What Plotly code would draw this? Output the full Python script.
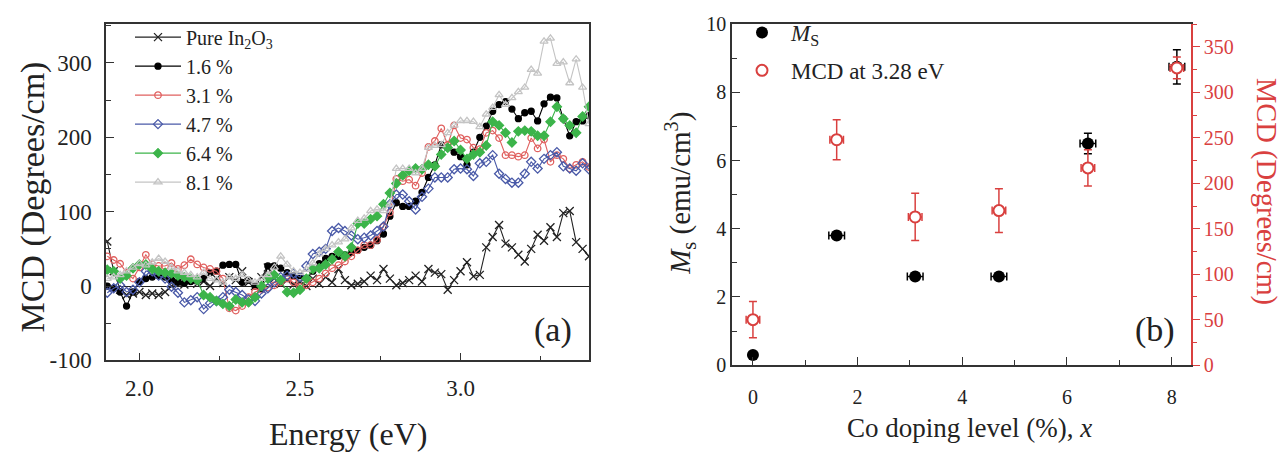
import plotly.graph_objects as go

# ---------------- data: panel (a) ----------------
ENERGY = [1.90, 1.92, 1.94, 1.96, 1.98, 2.00, 2.02, 2.04, 2.06, 2.08,
          2.10, 2.12, 2.14, 2.16, 2.18, 2.20, 2.22, 2.24, 2.26, 2.28,
          2.30, 2.32, 2.34, 2.36, 2.38, 2.40, 2.42, 2.44, 2.46, 2.48,
          2.50, 2.52, 2.54, 2.56, 2.58, 2.60, 2.62, 2.64, 2.66, 2.68,
          2.70, 2.72, 2.74, 2.76, 2.78, 2.80, 2.82, 2.84, 2.86, 2.88,
          2.90, 2.92, 2.94, 2.96, 2.98, 3.00, 3.02, 3.04, 3.06, 3.08,
          3.10, 3.12, 3.14, 3.16, 3.18, 3.20, 3.22, 3.24, 3.26, 3.28,
          3.30, 3.32, 3.34, 3.36, 3.38, 3.40]

PURE = [60, 20, -5, -12, -10, -8, -12, -10, -12, -8,
        0, 5, 2, 8, 3, 6, 0, 10, 4, 12,
        8, 20, 5, 0, 12, 25, 10, 3, 8, 2,
        5, 0, 10, 3, 12, 5, 23, 8, 1, 3,
        6, 14, 8, 23, 10, 1, 4, 8, 14, 6,
        23, 18, 16, -5, 8, 20, 32, 13, 15, 52,
        66, 82, 57, 52, 42, 33, 50, 69, 61, 79,
        66, 98, 101, 59, 50, 40]

CO_16 = [0, -3, -8, -27, -8, 6, 10, 12, 14, 12,
         8, 5, 4, 6, 8, 10, 18, 20, 28, 29,
         29, 5, 8, 0, -3, 27, 27, 24, 18, 14,
         14, 10, 20, 30, 37, 40, 40, 42, 45, 48,
         52, 55, 61, 70, 94, 112, 107, 107, 114, 126,
         146, 163, 190, 186, 180, 174, 163, 180, 200, 215,
         235, 244, 248, 238, 225, 233, 235, 222, 245, 254,
         253, 225, 202, 221, 222, 229]

CO_31 = [40, 35, 30, 18, 10, 25, 42, 29, 27, 27,
         31, 23, 28, 36, 29, 25, 23, 20, 10, -30,
         -33, -27, -15, -8, -5, -2, 1, 5, 10, 5,
         -1, 1, 5, 10, 17, 24, 28, 33, 40, 48,
         55, 55, 62, 80, 99, 144, 141, 143, 135, 152,
         187, 195, 212, 190, 216, 199, 197, 186, 184, 206,
         209, 199, 176, 176, 174, 176, 199, 185, 197, 167,
         176, 171, 158, 163, 167, 160]

CO_47 = [-9, -3, 1, -8, -5, 5, 20, 20, 14, 10,
         -1, -9, -22, -19, -15, -31, -23, -20, -15, -5,
         -8, -12, -18, -20, -10, -3, 5, 12, 14, 17,
         12, 27, 43, 46, 50, 74, 78, 74, 68, 63,
         65, 68, 74, 80, 110, 123, 123, 114, 103, 120,
         131, 146, 146, 146, 157, 158, 157, 148, 165, 167,
         176, 151, 144, 139, 139, 151, 167, 158, 171, 176,
         180, 161, 158, 155, 165, 157]

CO_64 = [22, 20, 10, 14, 24, 29, 29, 23, 20, 18,
         17, 14, 12, 10, 8, -12, -15, -20, -24, -27,
         -18, -22, -22, -15, 0, 10, 15, 8, -8, -9,
         -5, 10, 23, 24, 29, 36, 46, 40, 52, 84,
         84, 90, 94, 110, 125, 138, 149, 155, 158, 157,
         163, 161, 177, 186, 195, 183, 171, 177, 180, 189,
         221, 216, 206, 193, 208, 209, 208, 202, 202, 221,
         241, 225, 216, 206, 228, 241]

CO_81 = [10, 12, 15, 20, 25, 30, 28, 32, 37, 33,
         25, 20, 18, 15, 12, 18, 10, 8, 5, 12,
         10, 15, 8, 5, 10, 15, 25, 40, 29, 20,
         18, 22, 31, 43, 50, 55, 59, 63, 78, 88,
         91, 101, 103, 101, 110, 158, 158, 158, 152, 158,
         186, 189, 190, 206, 216, 222, 222, 221, 214, 231,
         240, 257, 244, 253, 261, 267, 291, 286, 329, 333,
         299, 301, 273, 305, 267, 218]

SERIES_NAMES = ["Pure In<sub>2</sub>O<sub>3</sub>", "1.6 %", "3.1 %", "4.7 %", "6.4 %", "8.1 %"]

Y_TICKS_A = [-100, 0, 100, 200, 300]
Y_TICKTEXT_A = ["-100", "0", "100", "200", "300"]

# ---------------- data: panel (b) ----------------
DOPING = [0, 1.6, 3.1, 4.7, 6.4, 8.1]
MS = [0.3, 3.8, 2.6, 2.6, 6.5, 8.75]
MS_YERR = [0, 0, 0, 0, 0.3, 0.5]
MS_XERR = [0, 0.15, 0.15, 0.15, 0.15, 0.15]
MCD_328 = [50, 248, 163, 170, 217, 327]
MCD_YERR = [20, 22, 26, 24, 20, 12]
MCD_XERR = [0.13, 0.13, 0.13, 0.13, 0.13, 0.13]

W, H = 1283, 452
FONT = "Liberation Serif"
RED = "#d9403f"
INK = "#222222"

def px_x(p):
    return p / W

def px_y(p):
    return 1 - p / H

fig = go.Figure()

styles = [
    dict(color="#222222", symbol="x-thin-open", size=8, lw=1.1),
    dict(color="#000000", symbol="circle", size=6, lw=1.1),
    dict(color="#e0605f", symbol="circle-open", size=6.5, lw=1.1),
    dict(color="#4a5aa8", symbol="diamond-open", size=7, lw=1.1),
    dict(color="#3cb44a", symbol="diamond", size=7, lw=1.1),
    dict(color="#c4c4c4", symbol="triangle-up-open", size=7, lw=1.1),
]
ys = [PURE, CO_16, CO_31, CO_47, CO_64, CO_81]
for name, yv, st in zip(SERIES_NAMES, ys, styles):
    fig.add_trace(go.Scatter(
        x=ENERGY, y=yv, name=name, mode="lines+markers",
        line=dict(color=st["color"], width=st["lw"]),
        marker=dict(symbol=st["symbol"], size=st["size"], color=st["color"],
                    line=dict(color=st["color"], width=1.3)),
        xaxis="x", yaxis="y", legend="legend"))

fig.add_trace(go.Scatter(
    x=DOPING, y=MS, name="<i>M</i><sub>S</sub>", mode="markers",
    marker=dict(symbol="circle", size=12, color="black"),
    error_y=dict(type="data", array=MS_YERR, color="black", thickness=1.5, width=4),
    error_x=dict(type="data", array=MS_XERR, color="black", thickness=1.5, width=4),
    xaxis="x2", yaxis="y2", legend="legend2", legendgroup="ms"))

fig.add_trace(go.Scatter(
    x=DOPING, y=MCD_328, name="MCD at 3.28 eV", mode="markers",
    marker=dict(symbol="circle", size=11, color="white", line=dict(color=RED, width=2)),
    error_y=dict(type="data", array=MCD_YERR, color=RED, thickness=1.5, width=4),
    error_x=dict(type="data", array=MCD_XERR, color=RED, thickness=1.5, width=4),
    xaxis="x2", yaxis="y3", legend="legend2", legendgroup="mcd"))

axis_common = dict(showline=True, linecolor="#333333", linewidth=1.5, showgrid=False,
                   ticks="inside", ticklen=8, tickwidth=1.2, tickcolor="#333333")

fig.update_layout(
    width=W, height=H,
    margin=dict(l=0, r=0, t=0, b=0),
    paper_bgcolor="white", plot_bgcolor="white",
    font=dict(family=FONT, color=INK),
    xaxis=dict(domain=[px_x(106), px_x(589)], range=[1.896, 3.4], anchor="y",
               tick0=2.0, dtick=0.5, tickformat=".1f", mirror=True,
               tickfont=dict(size=23), zeroline=False, ticklabelstandoff=6,
               minor=dict(ticks="inside", dtick=0.25, ticklen=5, tickcolor="#333333"),
               **axis_common),
    yaxis=dict(domain=[px_y(369), px_y(14)], range=[-100, 352], anchor="x",
               tickmode="array", tickvals=Y_TICKS_A, ticktext=Y_TICKTEXT_A,
               mirror=True, tickfont=dict(size=23), ticklabelstandoff=8,
               zeroline=True, zerolinecolor=INK, zerolinewidth=1.3,
               minor=dict(ticks="inside", tickmode="array",
                          tickvals=[-50, 50, 150, 250, 350], ticklen=5, tickcolor="#333333"),
               **axis_common),
    xaxis2=dict(domain=[px_x(732), px_x(1191)], range=[-0.4, 8.37], anchor="y2",
                dtick=2, mirror=True, tickfont=dict(size=20), zeroline=False,
                ticklabelstandoff=13,
                minor=dict(ticks="inside", dtick=1, ticklen=5, tickcolor="#333333"),
                **axis_common),
    yaxis2=dict(domain=[px_y(374), px_y(14)], range=[0, 10], anchor="x2",
                dtick=2, tickfont=dict(size=20), zeroline=False,
                minor=dict(ticks="inside", dtick=1, ticklen=5, tickcolor="#333333"),
                **axis_common),
    yaxis3=dict(overlaying="y2", anchor="x2", side="right", range=[0, 375],
                dtick=50, showline=True, linecolor=RED, linewidth=1.5, showgrid=False,
                ticks="outside", ticklen=7, tickwidth=1.2, tickcolor=RED,
                tickfont=dict(size=20, color=RED), zeroline=False,
                minor=dict(ticks="outside", dtick=25, ticklen=4, tickcolor=RED)),
    legend=dict(x=px_x(130), y=px_y(7), xanchor="left", yanchor="top",
                bgcolor="rgba(0,0,0,0)", font=dict(size=20, family=FONT, color=INK),
                itemwidth=46, tracegroupgap=0),
    legend2=dict(x=px_x(733), y=px_y(0), xanchor="left", yanchor="top",
                 bgcolor="rgba(0,0,0,0)", font=dict(size=23, family=FONT, color=INK),
                 itemwidth=48, tracegroupgap=5),
    showlegend=True,
)

ann = [
    dict(text="MCD (Degrees/cm)", x=px_x(33), y=px_y(197), textangle=-90, size=34, color=INK),
    dict(text="Energy (eV)", x=px_x(348), y=px_y(447), textangle=0, size=32, color=INK),
    dict(text="(a)", x=px_x(553), y=px_y(337), textangle=0, size=34, color=INK),
    dict(text="<i>M</i><sub>s</sub> (emu/cm<sup>3</sup>)", x=px_x(680), y=px_y(192), textangle=-90, size=29, color=INK),
    dict(text="Co doping level (%), <i>x</i>", x=px_x(969), y=px_y(440), textangle=0, size=27, color=INK),
    dict(text="MCD (Degrees/cm)", x=px_x(1266), y=px_y(190), textangle=90, size=28.5, color=RED),
    dict(text="(b)", x=px_x(1155), y=px_y(337), textangle=0, size=34, color=INK),
]
for a in ann:
    fig.add_annotation(text=a["text"], x=a["x"], y=a["y"], xref="paper", yref="paper",
                       xanchor="center", yanchor="middle", showarrow=False,
                       textangle=a["textangle"],
                       font=dict(family=FONT, size=a["size"], color=a["color"]))

fig.write_html("out.html")
